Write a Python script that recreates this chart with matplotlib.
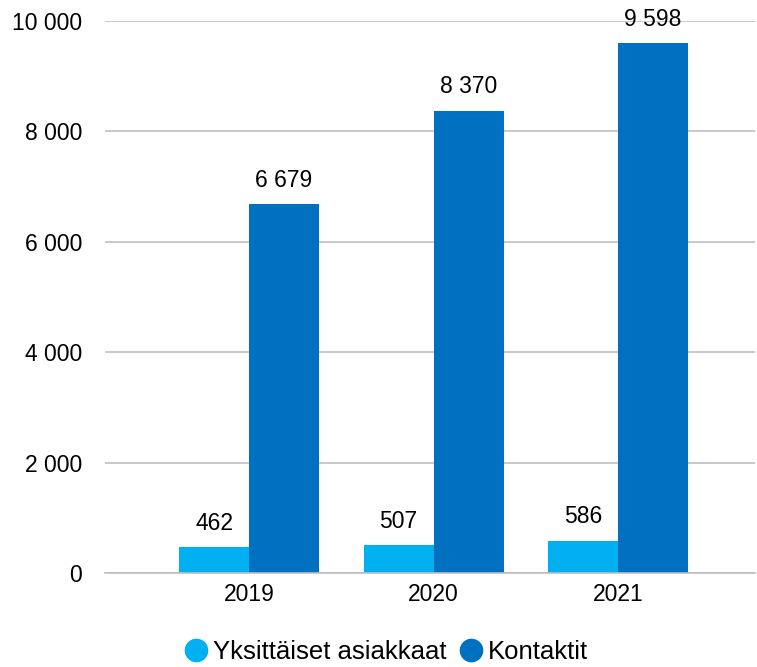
import matplotlib
matplotlib.use("Agg")
import matplotlib.pyplot as plt
from matplotlib.lines import Line2D
import numpy as np

years = ["2019", "2020", "2021"]
yksittaiset = [462, 507, 586]
kontaktit = [6679, 8370, 9598]
series_names = ["Yksittäiset asiakkaat", "Kontaktit"]
colors = ["#00B0F0", "#0070C0"]
yticks = [0, 2000, 4000, 6000, 8000, 10000]

def fmt(v):
    return f"{v:,}".replace(",", " ")

plt.rcParams['font.family'] = ['Liberation Sans', 'DejaVu Sans']
fig = plt.figure(figsize=(7.57, 6.67), dpi=100)
ax = fig.add_axes([105/757, 1-573/667, (755-105)/757, (573-21)/667])

x = np.arange(len(years))
w = 70/184.5
b1 = ax.bar(x - w/2, yksittaiset, w, color=colors[0], zorder=3)
b2 = ax.bar(x + w/2, kontaktit, w, color=colors[1], zorder=3)
for bars, vals in ((b1, yksittaiset), (b2, kontaktit)):
    for r, v in zip(bars, vals):
        ax.annotate(fmt(v), (r.get_x() + r.get_width()/2, v), xytext=(0, 9),
                    textcoords="offset points", ha="center", va="bottom", fontsize=16.5)

ax.set_xlim((105-249)/184.5, (755-249)/184.5)
ax.set_ylim(0, 10000)
ax.set_xticks(x)
ax.set_xticklabels(years, fontsize=16.5)
ax.set_yticks(yticks)
ax.set_yticklabels([fmt(t) for t in yticks], fontsize=16.5)
ax.tick_params(length=0, pad=7)
ax.tick_params(axis='y', pad=16.5)
ax.yaxis.grid(True, color="#BFBFBF", linewidth=1.2, zorder=0)
for s in ("top", "right", "left"):
    ax.spines[s].set_visible(False)
ax.spines["bottom"].set_color("#BFBFBF")
ax.spines["bottom"].set_linewidth(1.2)
ax.spines["bottom"].set_zorder(4)

handles = [Line2D([], [], marker='o', linestyle='None', markersize=16, markerfacecolor=c,
                  markeredgecolor=c) for c in colors]
fig.legend(handles, series_names, loc="center", bbox_to_anchor=(386.5/757, 1-652/667), ncol=2,
           frameon=False, fontsize=18.5, handletextpad=0.2, columnspacing=0.55, handlelength=0.86)

fig.savefig("out.png", dpi=100)
